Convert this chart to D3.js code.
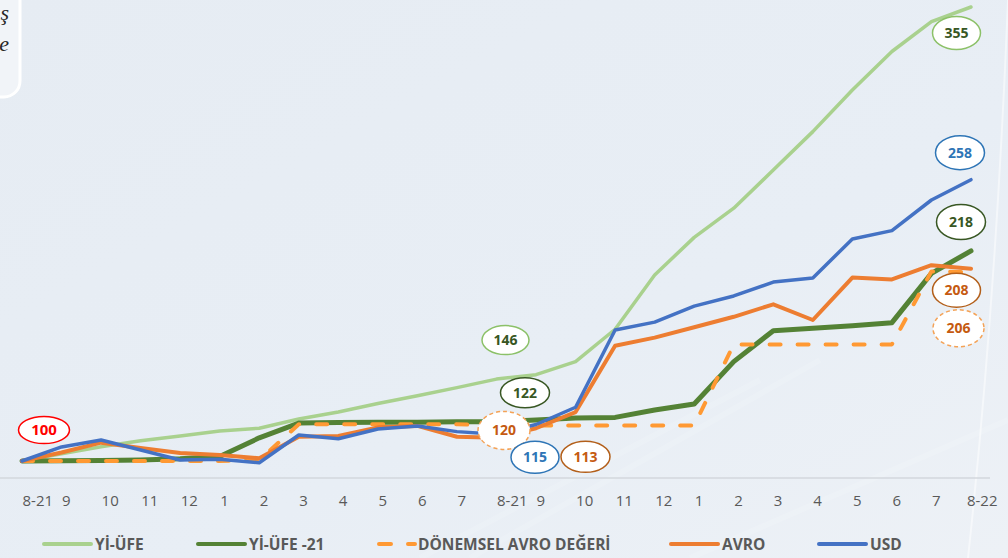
<!DOCTYPE html>
<html>
<head>
<meta charset="utf-8">
<script src="https://cdn.jsdelivr.net/npm/d3@7"></script>
<style>
  body { margin: 0; background: #e8eef4; }
  svg { display: block; }
</style>
</head>
<body>
<div id="chart"></div>
<script>
// month ticks along the axis
const months = ['8-21', '9', '10', '11', '12', '1', '2', '3', '4', '5', '6', '7',
                '8-21', '9', '10', '11', '12', '1', '2', '3', '4', '5', '6', '7', '8-22'];

// series values (index = 100)
const yiUfe = [100, 104, 108, 111.4, 114, 116.8, 118.4, 123.6, 127.5, 132.3, 136.7, 141.2,
               146, 148.5, 155.8, 174, 204.5, 225.6, 242, 263.4, 285, 308.4, 330, 346.8, 355];
const yiUfe21 = [100, 100.2, 100.3, 100.6, 101.2, 102.5, 113, 121.3, 121.6, 121.8, 121.8, 122,
                 122, 123, 124.2, 124.5, 128.6, 132, 155.8, 173.2, 174.5, 176, 177.7, 205.4, 218];
const donemselAvro = [100, 100, 100, 100, 100, 100, 100.5, 120.6, 120.6, 120.6, 120.6, 120.6,
                      120, 120, 120, 120, 120, 120, 165.5, 165.5, 165.5, 165.5, 165.5, 206.5, 206];
const avro = [100, 104.8, 110.3, 107.3, 104.5, 103.4, 101.5, 113.6, 114, 118.9, 119.7, 113.6,
              113, 118.4, 127.5, 164.7, 169.3, 175.1, 181, 188, 179.2, 203, 202, 210, 208];
const usd = [100, 107.9, 111.8, 106.2, 100.6, 101, 99, 114.6, 112.5, 118, 119.7, 116.5,
             115, 120.5, 130.2, 173.6, 178, 187, 192.7, 200.5, 202.8, 224.7, 229.4, 246.6, 258];

// which values get a callout bubble: [series key, point index]
const callouts = [
  ['avroBase', 0],
  ['yiUfe', 12], ['yiUfe21', 12], ['donemsel', 12], ['usd', 12], ['avro', 12],
  ['yiUfe', 24], ['usd', 24], ['yiUfe21', 24], ['avro', 24], ['donemsel', 24]
];

const series = [
  { key: 'yiUfe', name: 'Yİ-ÜFE', values: yiUfe, color: '#a9d18e', width: 3.5 },
  { key: 'yiUfe21', name: 'Yİ-ÜFE -21', values: yiUfe21, color: '#548235', width: 5 },
  { key: 'donemsel', name: 'DÖNEMSEL AVRO DEĞERİ', values: donemselAvro, color: '#ff9933', width: 4, dash: '11 17' },
  { key: 'avro', name: 'AVRO', values: avro, color: '#ed7d31', width: 4 },
  { key: 'usd', name: 'USD', values: usd, color: '#4472c4', width: 3.5 }
];

// bubble look per series: offset from the point, size, colours
const bubbleStyle = {
  avroBase: { 0: [22, -31, 25.5, 13.5] , stroke: '#ff0000', text: '#ff0000', values: avro },
  yiUfe:    { 12: [9, -39, 23.5, 14.5], 24: [-14.5, 26, 24, 16.5], stroke: '#8cc168', text: '#375623' },
  yiUfe21:  { 12: [28.5, -29, 24.5, 15], 24: [-10, -29, 24.5, 17.5], stroke: '#385723', text: '#385723' },
  donemsel: { 12: [7.5, 5, 26, 19], 24: [-12.5, 56, 25.5, 18.5], stroke: '#f4a256', text: '#c55a11', dash: '4 3' },
  usd:      { 12: [38.5, 23, 24, 16], 24: [-11, -27, 24.5, 17], stroke: '#2e75b6', text: '#2e75b6' },
  avro:     { 12: [89, 19, 24.5, 15.5], 24: [-14.5, 21.5, 24, 17], stroke: '#b35f1a', text: '#c55a11' }
};

const W = 1008, H = 558;
const svg = d3.select('#chart').append('svg').attr('width', W).attr('height', H);

// background
const defs = svg.append('defs');
const bg = defs.append('linearGradient').attr('id', 'bg').attr('x1', 0).attr('y1', 0).attr('x2', 1).attr('y2', 1);
bg.append('stop').attr('offset', '0%').attr('stop-color', '#e6ecf3');
bg.append('stop').attr('offset', '60%').attr('stop-color', '#e8eef5');
bg.append('stop').attr('offset', '100%').attr('stop-color', '#edf1f6');
svg.append('rect').attr('width', W).attr('height', H).attr('fill', 'url(#bg)');

// faint diagonal streaks
[[420, 558, 760, 380], [470, 558, 820, 360], [690, 558, 1008, 420]].forEach(s => {
  svg.append('line').attr('x1', s[0]).attr('y1', s[1]).attr('x2', s[2]).attr('y2', s[3])
    .attr('stroke', '#ffffff').attr('stroke-opacity', 0.13).attr('stroke-width', 6);
});
svg.append('path').attr('d', 'M 1008 0 Q 996 300 968 558')
  .attr('fill', 'none').attr('stroke', '#ffffff').attr('stroke-opacity', 0.5).attr('stroke-width', 2);

// cropped text box at top left
svg.append('rect').attr('x', -40).attr('y', -30).attr('width', 60).attr('height', 127).attr('rx', 16)
  .attr('fill', '#f1f4f8').attr('stroke', '#ffffff').attr('stroke-width', 3);
svg.append('text').attr('x', 9).attr('y', 20).attr('text-anchor', 'end')
  .style('font-family', 'Liberation Serif, DejaVu Serif, serif').style('font-style', 'italic')
  .style('font-size', '22px').attr('fill', '#262626').text('ş');
svg.append('text').attr('x', 9).attr('y', 51).attr('text-anchor', 'end')
  .style('font-family', 'Liberation Serif, DejaVu Serif, serif').style('font-style', 'italic')
  .style('font-size', '22px').attr('fill', '#262626').text('e');

// scales
const x = d3.scalePoint().domain(d3.range(months.length)).range([22, 971]);
const y = d3.scaleLinear().domain([100, 355]).range([461, 7]);

// axis
const axis = svg.append('g').attr('transform', 'translate(0,478)')
  .call(d3.axisBottom(x).tickSize(0).tickFormat(i => months[i]));
axis.select('.domain').attr('d', 'M0,0H990').attr('stroke', '#d3d7dc').attr('stroke-width', 1.5);
axis.selectAll('text')
  .attr('y', 0).attr('dy', '28px')
  .attr('text-anchor', 'start')
  .attr('fill', '#595959')
  .style('font-family', 'Open Sans, Liberation Sans, sans-serif')
  .style('font-size', '15px');
axis.selectAll('.tick text').each(function(i) {
  const w = this.getComputedTextLength();
  const px = x(i);
  if (px + w > 997) d3.select(this).attr('x', 997 - w - px);
});

// lines
const line = d3.line().x((d, i) => x(i)).y(d => y(d));
svg.append('g').selectAll('path')
  .data(series)
  .join('path')
  .attr('d', d => line(d.values))
  .attr('fill', 'none')
  .attr('stroke', d => d.color)
  .attr('stroke-width', d => d.width)
  .attr('stroke-linejoin', 'round')
  .attr('stroke-linecap', 'round')
  .attr('stroke-dasharray', d => d.dash || null);

// callout bubbles
const seriesByKey = {};
series.forEach(s => { seriesByKey[s.key] = s; });
const bubbles = svg.append('g').selectAll('g')
  .data(callouts)
  .join('g')
  .attr('transform', d => {
    const st = bubbleStyle[d[0]];
    const vals = st.values || seriesByKey[d[0]].values;
    const o = st[d[1]];
    return `translate(${x(d[1]) + o[0]},${y(vals[d[1]]) + o[1]})`;
  });
bubbles.append('ellipse')
  .attr('rx', d => bubbleStyle[d[0]][d[1]][2])
  .attr('ry', d => bubbleStyle[d[0]][d[1]][3])
  .attr('fill', '#ffffff')
  .attr('stroke', d => bubbleStyle[d[0]].stroke)
  .attr('stroke-width', 1.5)
  .attr('stroke-dasharray', d => bubbleStyle[d[0]].dash || null);
bubbles.append('text')
  .attr('text-anchor', 'middle')
  .attr('dy', '0.36em')
  .attr('fill', d => bubbleStyle[d[0]].text)
  .style('font-family', 'Open Sans, Liberation Sans, sans-serif')
  .style('font-weight', 'bold')
  .style('font-size', d => d[0] === 'avroBase' ? '15px' : '14px')
  .text(d => {
    const vals = bubbleStyle[d[0]].values || seriesByKey[d[0]].values;
    return Math.round(vals[d[1]]);
  });

// legend
const legendX = [44, 198, 379, 671, 819];
const legend = svg.append('g').selectAll('g')
  .data(series)
  .join('g')
  .attr('transform', (d, i) => `translate(${legendX[i]},544)`);
legend.append('line')
  .attr('x1', 0).attr('x2', d => d.dash ? 36 : 47)
  .attr('stroke', d => d.color)
  .attr('stroke-width', 4)
  .attr('stroke-linecap', 'round')
  .attr('stroke-dasharray', d => d.dash ? '12 17' : null);
legend.append('text')
  .attr('x', d => d.dash ? 39 : 51)
  .attr('dy', '0.36em')
  .attr('fill', '#595959')
  .style('font-family', 'Open Sans, Liberation Sans, sans-serif')
  .style('font-weight', 'bold')
  .style('font-size', '15.5px')
  .text(d => d.name);
</script>
</body>
</html>
